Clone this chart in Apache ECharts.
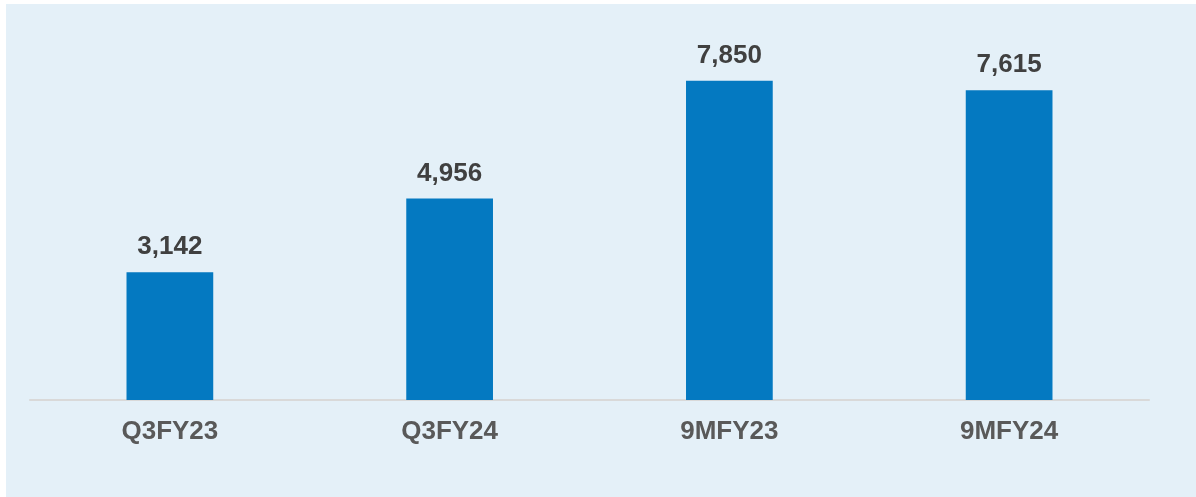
<!DOCTYPE html>
<html>
<head>
<meta charset="utf-8">
<script src="https://cdn.jsdelivr.net/npm/echarts@6/dist/echarts.min.js"></script>
<style>
  html, body { margin: 0; padding: 0; background: #ffffff; }
  #chart { position: absolute; left: 6px; top: 4px; width: 1190px; height: 493px; background: #e4f0f8; }
</style>
</head>
<body>
<div id="chart"></div>
<script>
const categories = ['Q3FY23', 'Q3FY24', '9MFY23', '9MFY24'];
const values = [3142, 4956, 7850, 7615];

const chart = echarts.init(document.getElementById('chart'));
const option = {
  animation: false,
  grid: { left: 24, right: 47, top: 30, bottom: 97 },
  xAxis: {
    type: 'category',
    data: categories,
    axisLine: { lineStyle: { color: '#d9d9d9', width: 2 } },
    axisTick: { show: false },
    axisLabel: {
      color: '#595959',
      fontSize: 26,
      fontWeight: 'bold',
      fontFamily: 'Liberation Sans, Arial, sans-serif',
      margin: 19
    }
  },
  yAxis: {
    type: 'value',
    min: 0,
    max: 9000,
    show: false,
    splitLine: { show: false }
  },
  series: [{
    type: 'bar',
    data: values,
    barWidth: '31%',
    itemStyle: { color: '#0479c1' },
    label: {
      show: true,
      position: 'top',
      distance: 12,
      color: '#404040',
      fontSize: 26,
      fontWeight: 'bold',
      fontFamily: 'Liberation Sans, Arial, sans-serif',
      formatter: p => p.value.toLocaleString('en-US')
    }
  }]
};
chart.setOption(option);
</script>
</body>
</html>
